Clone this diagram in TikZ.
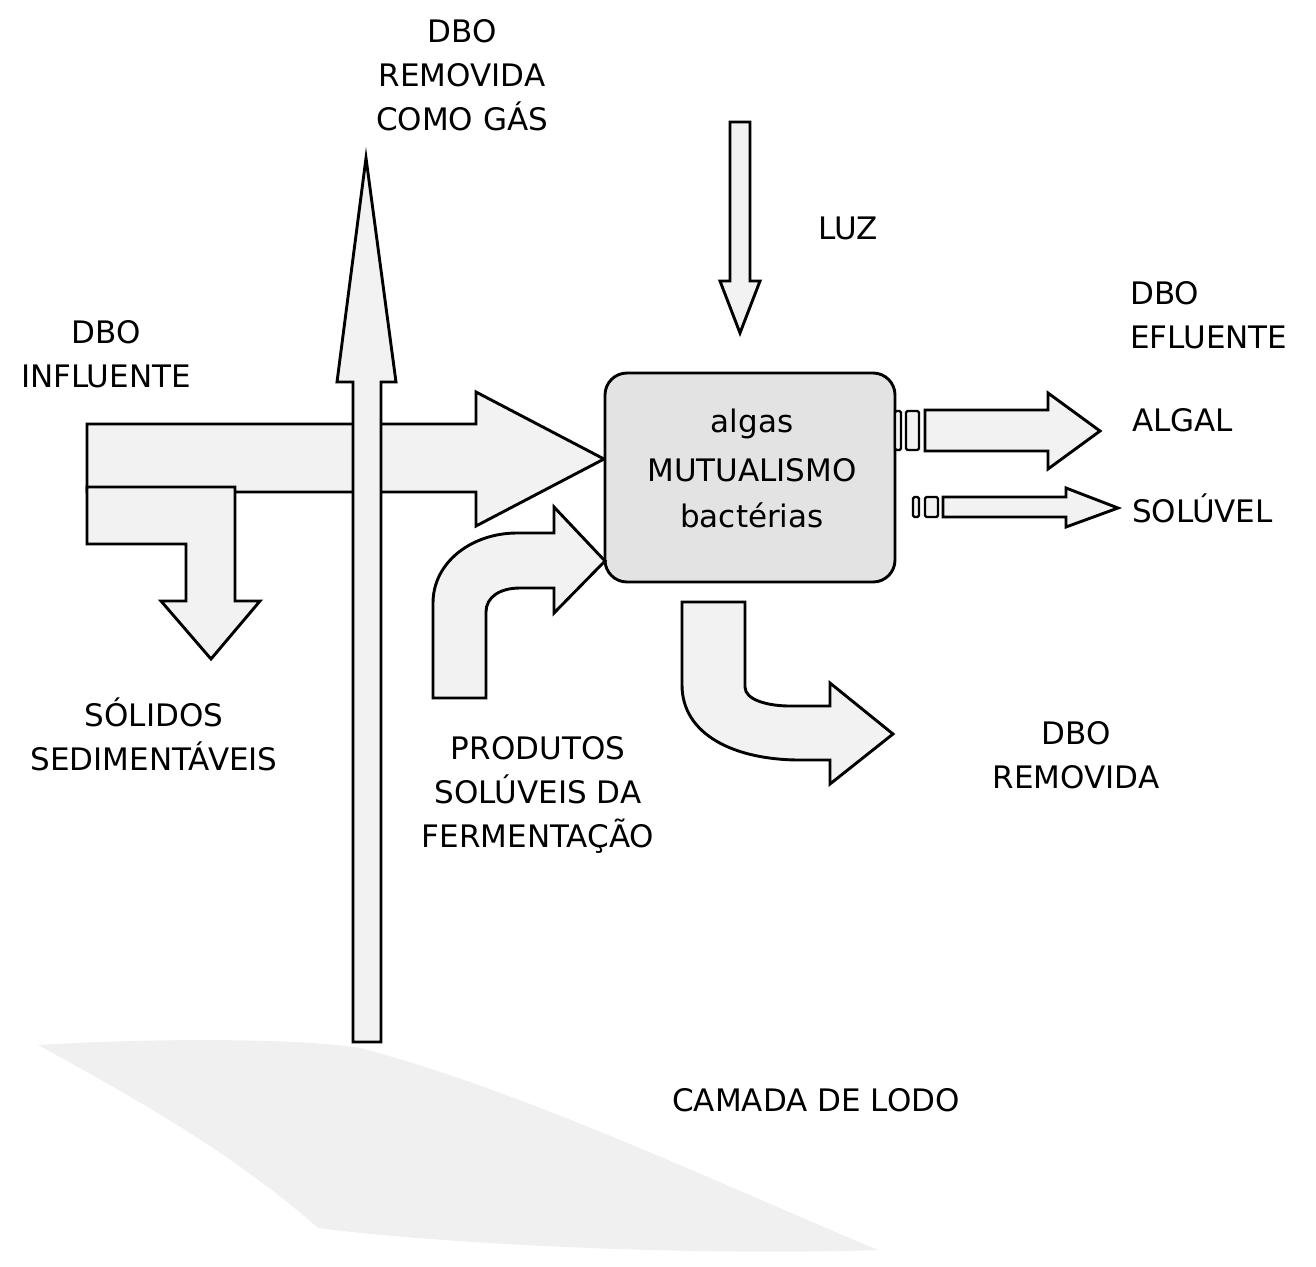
\documentclass[tikz,border=0pt]{standalone}
\usepackage{fontspec}
\setmainfont{DejaVu Sans}
\begin{document}
\begin{tikzpicture}[x=1pt,y=-1pt,
  blk/.style={draw=black,line width=2.9pt,fill=black!5,line join=miter},
  small/.style={draw=black,line width=2.2pt,fill=black!5,rounded corners=1.5pt},
  lbl/.style={font=\fontsize{31}{44}\selectfont,align=center,inner sep=0pt},
  lbll/.style={lbl,align=left,anchor=west},
]
\useasboundingbox (0,0) rectangle (1316,1266);

% sludge layer
\fill[black!6] (38,1045) .. controls (150,1038) and (300,1038) .. (360,1048)
  .. controls (520,1090) and (700,1175) .. (878,1250)
  .. controls (700,1256) and (450,1245) .. (318,1228)
  .. controls (230,1150) and (120,1090) .. (38,1045) -- cycle;

% influent arrow
\draw[blk] (87,424) -- (476,424) -- (476,392) -- (604,459) -- (476,526) -- (476,492) -- (87,492) -- cycle;
% settleable solids arrow
\draw[blk] (87,487) -- (235,487) -- (235,601) -- (260,601) -- (211,659) -- (161,601) -- (186,601) -- (186,544) -- (87,544) -- cycle;
% gas arrow
\draw[blk] (353,1042) -- (353,382) -- (337,382) -- (366,158) -- (396,382) -- (381,382) -- (381,1042) -- cycle;

% central box
\node[draw=black,line width=2.9pt,fill=black!11,rounded corners=22pt,minimum width=290pt,minimum height=209pt,inner sep=0pt] (box) at (750,477.5) {};
\node[lbl] (alg) at (752,424) {algas};
\node[lbl] (mut) at (752,470) {MUTUALISMO};
\node[lbl] (bac) at (752,515) {bactérias};

% fermentation products arrow
\draw[blk] (433,698) -- (433,603) .. controls (433,562) and (472,533) .. (517,533) -- (554,533) -- (554,507) -- (605,561) -- (554,613) -- (554,588) -- (520,588) .. controls (500,588) and (486,597) .. (486,612) -- (486,698) -- cycle;

% removed BOD arrow
\draw[blk] (682,602) -- (745,602) -- (745,687) .. controls (745,700) and (768,706) .. (790,706) -- (830,706) -- (830,683) -- (893,734) -- (830,784) -- (830,760) -- (800,760) .. controls (735,760) and (682,735) .. (682,685) -- cycle;

% light arrow
\draw[blk] (730,122) -- (750,122) -- (750,281) -- (760,281) -- (740,333) -- (720,281) -- (730,281) -- cycle;

% algal effluent
\draw[small] (895,411) rectangle (901,450);
\draw[small] (906,411) rectangle (919,450);
\draw[blk] (925,410) -- (1048,410) -- (1048,393) -- (1100,431) -- (1048,469) -- (1048,451) -- (925,451) -- cycle;
% soluble effluent
\draw[small] (913,497) rectangle (919,517);
\draw[small] (925,497) rectangle (938,517);
\draw[blk] (943,497) -- (1066,497) -- (1066,488) -- (1118,508) -- (1066,527) -- (1066,517) -- (943,517) -- cycle;

% labels
\node[lbl] (tgas) at (462,75) {DBO\\REMOVIDA\\COMO GÁS};
\node[lbl] (tluz) at (848,228) {LUZ};
\node[lbll] (tefl) at (1130,315) {DBO\\EFLUENTE};
\node[lbll] (talg) at (1132,420) {ALGAL};
\node[lbll] (tsol) at (1132,508) {SOLÚVEL};
\node[lbl] (tinf) at (106,354) {DBO\\INFLUENTE};
\node[lbl] (tsed) at (154,734) {SÓLIDOS\\SEDIMENTÁVEIS};
\node[lbl] (tfer) at (538,795) {PRODUTOS\\SOLÚVEIS DA\\FERMENTAÇÃO};
\node[lbl] (trem) at (1076,755) {DBO\\REMOVIDA};
\node[lbl] (tlod) at (816,1100) {CAMADA DE LODO};
\end{tikzpicture}
\end{document}
